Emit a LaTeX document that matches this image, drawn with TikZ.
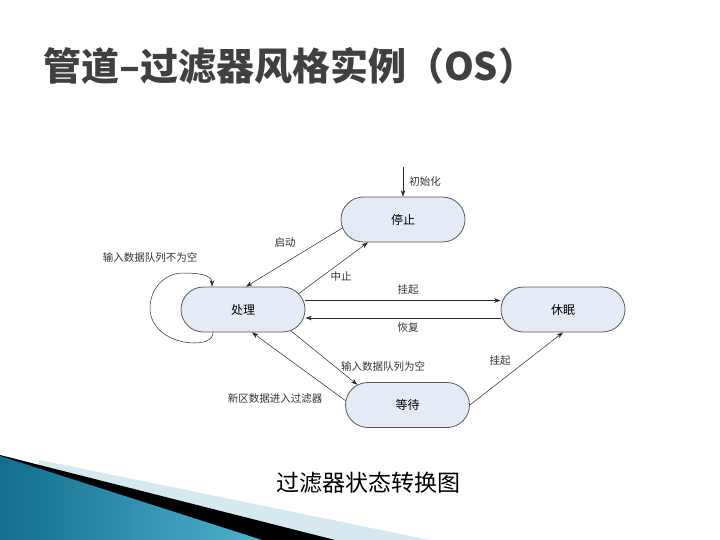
\documentclass[tikz,border=0pt]{standalone}
\usepackage{fontspec}
\usepackage{tikz}
\usetikzlibrary{arrows.meta,shapes.misc}
\newfontfamily\cjk{Noto Sans CJK SC}
\definecolor{statefill}{RGB}{228,234,246}
\definecolor{titlegray}{RGB}{64,64,64}
\definecolor{tealdark}{RGB}{18,110,140}
\definecolor{teallight}{RGB}{80,178,206}
\definecolor{stripe}{RGB}{214,232,240}
\tikzset{
  state/.style={rounded rectangle, draw=black!65, line width=0.8pt, fill=statefill,
    minimum width=124pt, minimum height=45pt, inner sep=0pt,
    font=\cjk\fontsize{12}{12}\selectfont},
  trans/.style={draw=black!85, line width=0.5pt, -{Stealth[length=6.5pt,width=4.5pt]}},
  lbl/.style={font=\cjk\fontsize{10.5}{10.5}\selectfont, text=black!80, inner sep=1pt}
}
\begin{document}
\begin{tikzpicture}[x=1pt,y=-1pt]
\useasboundingbox (0,0) rectangle (720,540);
% background stripes at the bottom left:
\path[fill=stripe] (40,460) -- (430,540) -- (0,540) -- cycle;
\path[fill=black] (0,455) -- (335,540) -- (0,540) -- cycle;
\path[left color=tealdark, right color=teallight] (0,456) -- (262,540) -- (0,540) -- cycle;
% title and caption:
\node[anchor=west, text=titlegray, font=\cjk\bfseries\fontsize{38}{38}\selectfont, inner sep=0pt]
  (title) at (43,66) {管道–过滤器风格实例（OS）};
\node[font=\cjk\fontsize{23}{23}\selectfont, inner sep=0pt] (caption) at (368,483) {过滤器状态转换图};
% states:
\node[state] (stop) at (403,219.5) {停止};
\node[state] (proc) at (243,309.5) {处理};
\node[state] (sleep) at (563,309.5) {休眠};
\node[state] (wait) at (407.5,405) {等待};
\coordinate (init) at (403,167);
% transitions:
\draw[trans] (init) -- (stop.north);
\draw[trans] (stop.188) -- ([xshift=3pt]proc.north);
\draw[trans] (proc.16) -- ([xshift=-35pt]stop.south);
\draw[trans] ([yshift=9pt]proc.east) -- ([yshift=9pt]sleep.west);
\draw[trans] ([yshift=-8.5pt]sleep.west) -- ([yshift=-8.5pt]proc.east);
\draw[trans] (proc.336) -- (wait.158);
\draw[trans] (wait.176) -- ([xshift=9pt]proc.south);
\draw[trans] (wait.east) -- (sleep.south);
\draw[trans] ([xshift=-30pt]proc.south) to[out=-90,in=0] (195,343)
  to[out=180,in=-90] (150,308) to[out=90,in=180] (183,273)
  to[out=0,in=90] ([xshift=-31pt]proc.north);
% labels:
\node[lbl] (linit) at (425,182) {初始化};
\node[lbl] (lstart) at (285,243) {启动};
\node[lbl] (lhalt) at (341,277) {中止};
\node[lbl] (lsusp) at (408,290) {挂起};
\node[lbl] (lresume) at (408,328) {恢复};
\node[lbl] (lempty) at (383,367) {输入数据队列为空};
\node[lbl] (lnew) at (275,399) {新区数据进入过滤器};
\node[lbl] (lsusp2) at (500,361) {挂起};
\node[lbl] (lnonempty) at (150,258) {输入数据队列不为空};
\end{tikzpicture}
\end{document}
